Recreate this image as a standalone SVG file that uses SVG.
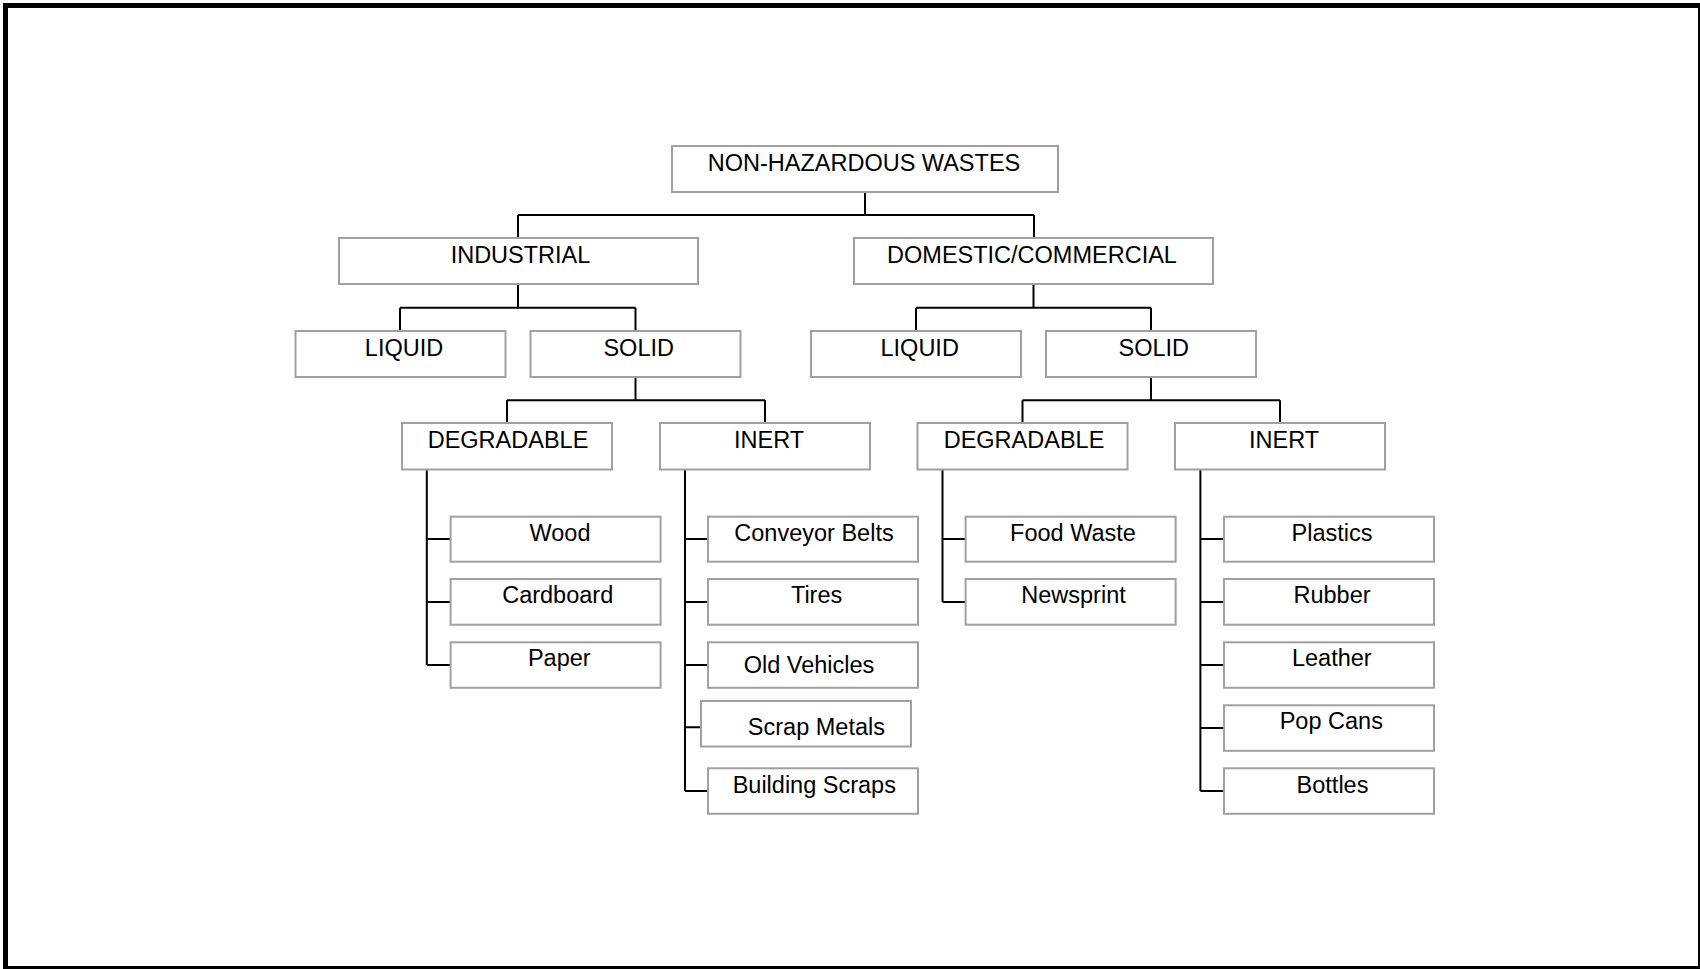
<svg xmlns="http://www.w3.org/2000/svg" width="1700" height="969" viewBox="0 0 1700 969">
<style>
.b{fill:#fff;stroke:#a0a0a0;stroke-width:2}
.t{font-family:"Liberation Sans",Arial,sans-serif;font-size:23.5px;fill:#000;text-anchor:middle}
.c{fill:none;stroke:#000;stroke-width:2}
</style>
<rect x="0" y="0" width="1700" height="969" fill="#fff"/>
<rect x="5.5" y="5.5" width="1695" height="963" fill="none" stroke="#000" stroke-width="5"/>
<g id="connectors">
<path class="c" d="M865,192V215M518,215H1034M518,215V237M1034,215V237"/>
<path class="c" d="M518,285V307.7M400,307.7H635.5M400,307.7V330M635.5,307.7V330"/>
<path class="c" d="M1033.5,285V307.7M916,307.7H1151M916,307.7V330M1151,307.7V330"/>
<path class="c" d="M635.5,378V400.3M507,400.3H765M507,400.3V422M765,400.3V422"/>
<path class="c" d="M1151,378V400.3M1022.5,400.3H1280M1022.5,400.3V422M1280,400.3V422"/>
<path class="c" d="M426.8,470V665M426.8,539H450M426.8,602H450M426.8,665H450"/>
<path class="c" d="M685,470V791M685,539H707M685,602H707M685,665H707M685,727.3H707M685,791H707"/>
<path class="c" d="M942.5,470V602M942.5,539H965M942.5,602H965"/>
<path class="c" d="M1200.4,470V791M1200.4,539H1223M1200.4,602H1223M1200.4,665H1223M1200.4,728H1223M1200.4,791H1223"/>
</g>
<g id="root"><rect class="b" x="672" y="146" width="386" height="46"/><text class="t" x="864" y="170.7">NON-HAZARDOUS WASTES</text></g>
<g id="industrial"><rect class="b" x="339" y="238" width="359" height="46"/><text class="t" x="520.5" y="263.3">INDUSTRIAL</text></g>
<g id="domestic"><rect class="b" x="854" y="238" width="359" height="46"/><text class="t" x="1032" y="262.8">DOMESTIC/COMMERCIAL</text></g>
<g id="liquid-ind"><rect class="b" x="295.5" y="331" width="210" height="46"/><text class="t" x="404" y="356">LIQUID</text></g>
<g id="solid-ind"><rect class="b" x="530.5" y="331" width="210" height="46"/><text class="t" x="638.7" y="356">SOLID</text></g>
<g id="liquid-dom"><rect class="b" x="811" y="331" width="210" height="46"/><text class="t" x="919.7" y="356">LIQUID</text></g>
<g id="solid-dom"><rect class="b" x="1046" y="331" width="210" height="46"/><text class="t" x="1153.8" y="356">SOLID</text></g>
<g id="degradable-ind"><rect class="b" x="402" y="423" width="210" height="46.5"/><text class="t" x="508" y="448.3">DEGRADABLE</text></g>
<g id="inert-ind"><rect class="b" x="660" y="423" width="210" height="46.5"/><text class="t" x="769" y="448.3">INERT</text></g>
<g id="degradable-dom"><rect class="b" x="917.5" y="423" width="210" height="46.5"/><text class="t" x="1024" y="448.3">DEGRADABLE</text></g>
<g id="inert-dom"><rect class="b" x="1175" y="423" width="210" height="46.5"/><text class="t" x="1284" y="448.3">INERT</text></g>
<g id="wood"><rect class="b" x="450.6" y="516.7" width="210" height="45"/><text class="t" x="560" y="540.7">Wood</text></g>
<g id="cardboard"><rect class="b" x="450.6" y="579" width="210" height="45.7"/><text class="t" x="557.7" y="603.3">Cardboard</text></g>
<g id="paper"><rect class="b" x="450.6" y="642.3" width="210" height="45.5"/><text class="t" x="559.3" y="665.5">Paper</text></g>
<g id="conveyor-belts"><rect class="b" x="708" y="516.7" width="210" height="45"/><text class="t" x="814" y="540.7">Conveyor Belts</text></g>
<g id="tires"><rect class="b" x="708" y="579" width="210" height="45.7"/><text class="t" x="816.6" y="603.3">Tires</text></g>
<g id="old-vehicles"><rect class="b" x="708" y="642.3" width="210" height="45.5"/><text class="t" x="809" y="673.3">Old Vehicles</text></g>
<g id="scrap-metals"><rect class="b" x="701" y="701" width="210" height="45.5"/><text class="t" x="816.4" y="735">Scrap Metals</text></g>
<g id="building-scraps"><rect class="b" x="708" y="768.3" width="210" height="45.5"/><text class="t" x="814.3" y="792.7">Building Scraps</text></g>
<g id="food-waste"><rect class="b" x="965.6" y="516.7" width="210" height="45"/><text class="t" x="1073" y="540.7">Food Waste</text></g>
<g id="newsprint"><rect class="b" x="965.6" y="579" width="210" height="45.7"/><text class="t" x="1073.5" y="603.3">Newsprint</text></g>
<g id="plastics"><rect class="b" x="1224" y="516.7" width="210" height="45"/><text class="t" x="1332" y="540.7">Plastics</text></g>
<g id="rubber"><rect class="b" x="1224" y="579" width="210" height="45.7"/><text class="t" x="1332" y="603.3">Rubber</text></g>
<g id="leather"><rect class="b" x="1224" y="642.3" width="210" height="45.5"/><text class="t" x="1331.8" y="665.5">Leather</text></g>
<g id="pop-cans"><rect class="b" x="1224" y="705.3" width="210" height="45.5"/><text class="t" x="1331.3" y="729.3">Pop Cans</text></g>
<g id="bottles"><rect class="b" x="1224" y="768.3" width="210" height="45.5"/><text class="t" x="1332.5" y="792.7">Bottles</text></g>
</svg>
